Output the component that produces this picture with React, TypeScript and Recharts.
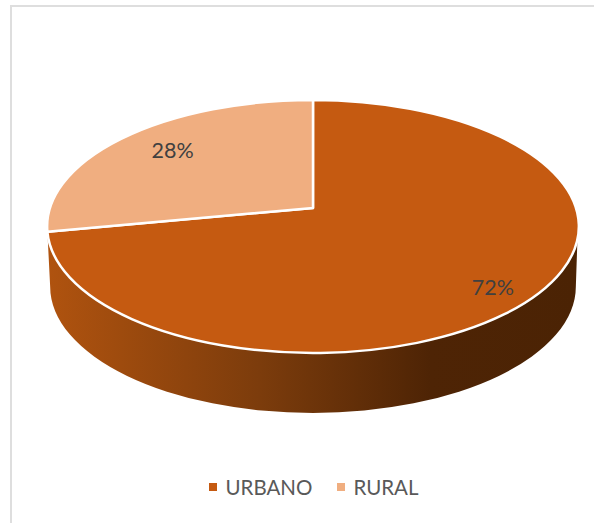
import React from "react";
import { PieChart, Pie, Cell, Legend } from "recharts";

// Population split by zone
const ZONES = ["URBANO", "RURAL"];
const SHARES = [72, 28];
const ZONE_COLORS = ["#C55A11", "#F0AE80"];

const tableData = ZONES.map((name, i) => ({ name, value: SHARES[i] }));

// Tilt of the disc: k is the perspective foreshortening, SQUASH the vertical scale
const K = 0.146;
const SQUASH = 0.4707;
const RAD = Math.PI / 180;

// Puts a point of the flat pie (angle in degrees, radius r) onto the tilted disc
const project = (cx: number, cy: number, R: number, angle: number, r = R) => {
  const X = (r / R) * Math.cos(angle * RAD);
  const Y = (r / R) * Math.sin(angle * RAD);
  const w = 1 + K * Y;
  return { x: cx + (R * X) / w, y: cy - (R * SQUASH * Y) / w };
};

const discEllipse = (cy: number, R: number) => {
  const a = R * SQUASH;
  const top = a / (1 + K);
  const bottom = a / (1 - K);
  return {
    rx: R / Math.sqrt(1 - K * K),
    ry: (top + bottom) / 2,
    centerY: cy + (bottom - top) / 2,
  };
};

const TiltedSlice = (props: any) => {
  const { cx, cy, outerRadius: R, startAngle, endAngle, fill, index } = props;
  const { rx, ry, centerY } = discEllipse(cy, R);
  const from = project(cx, cy, R, startAngle);
  const to = project(cx, cy, R, endAngle);
  const large = Math.abs(startAngle - endAngle) > 180 ? 1 : 0;

  // Only the front slice shows its side wall, the other one sits at the back
  let wall = null;
  if (index === 0) {
    const depth = 60;
    const lowerRx = rx - 3;
    const lowerCy = centerY + depth;
    const rightY = centerY + 13;
    const rightX = cx + rx * Math.sqrt(1 - ((rightY - centerY) / ry) ** 2);
    wall = (
      <>
        <defs>
          <linearGradient
            id="wallShade"
            gradientUnits="userSpaceOnUse"
            x1={cx - rx}
            x2={cx + rx}
            y1={0}
            y2={0}
          >
            <stop offset="0" stopColor="#B0530F" />
            <stop offset="0.4" stopColor="#7C3C0C" />
            <stop offset="0.72" stopColor="#4E2405" />
            <stop offset="1" stopColor="#4B2304" />
          </linearGradient>
        </defs>
        <path
          fill="url(#wallShade)"
          d={`M${to.x},${to.y} A${rx},${ry} 0 0 0 ${rightX},${rightY}
              L${cx + lowerRx},${lowerCy}
              A${lowerRx},${ry} 0 0 1 ${cx - lowerRx},${lowerCy} Z`}
        />
      </>
    );
  }

  return (
    <g>
      {wall}
      <path
        fill={fill}
        stroke="#fff"
        strokeWidth={2.5}
        strokeLinejoin="round"
        d={`M${cx},${cy} L${from.x},${from.y} A${rx},${ry} 0 ${large} 1 ${to.x},${to.y} Z`}
      />
    </g>
  );
};

const SliceLabel = ({ cx, cy, outerRadius, midAngle, percent, index }: any) => {
  const reach = index === 0 ? 0.82 : 0.74;
  const drop = index === 0 ? 9 : -3;
  const p = project(cx, cy, outerRadius, midAngle, outerRadius * reach);
  return (
    <text
      x={p.x}
      y={p.y + drop}
      textAnchor="middle"
      dominantBaseline="central"
      fontSize={21.5}
      fontFamily="Lato, sans-serif"
      fill="#404040"
    >
      {Math.round(percent * 100)}%
    </text>
  );
};

const ZoneLegend = ({ payload }: any) => (
  <div
    style={{
      display: "flex",
      justifyContent: "center",
      gap: 25,
      fontFamily: "Lato, sans-serif",
      fontSize: 20.5,
      color: "#595959",
    }}
  >
    {(payload || []).map((item: any) => (
      <span key={item.value} style={{ display: "flex", alignItems: "center" }}>
        <i style={{ width: 8, height: 8, marginRight: 8, background: item.color }} />
        {item.value}
      </span>
    ))}
  </div>
);

export default function App() {
  return (
    <div style={{ position: "absolute", left: 0, top: 0, width: 594, height: 523, overflow: "hidden", background: "#fff" }}>
      <div
        style={{
          position: "absolute",
          left: 10,
          top: 5,
          right: 0,
          bottom: 0,
          borderTop: "2px solid #DEDEDE",
          borderLeft: "2px solid #DEDEDE",
        }}
      />
      <PieChart width={594} height={523} margin={{ top: 0, right: 0, bottom: 0, left: 0 }} style={{ position: "absolute" }}>
        <Pie
          data={tableData}
          dataKey="value"
          nameKey="name"
          cx={313}
          cy={208}
          outerRadius={263}
          startAngle={90}
          endAngle={-270}
          stroke="none"
          shape={TiltedSlice}
          label={SliceLabel}
          labelLine={false}
          isAnimationActive={false}
        >
          {tableData.map((d, i) => (
            <Cell key={d.name} fill={ZONE_COLORS[i]} />
          ))}
        </Pie>
        <Legend
          content={ZoneLegend}
          itemSorter={null}
          wrapperStyle={{ left: 17, top: 475, width: 594, height: 28 }}
        />
      </PieChart>
    </div>
  );
}
